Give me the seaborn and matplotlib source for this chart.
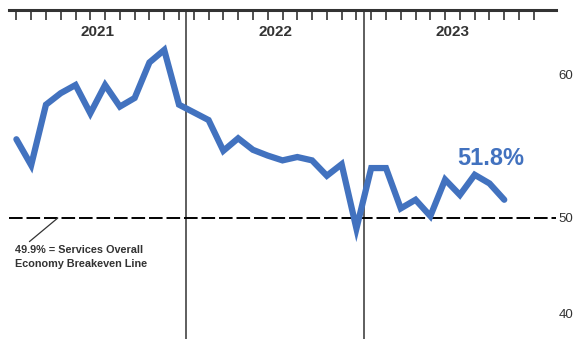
import pandas as pd
import matplotlib.pyplot as plt
import seaborn as sns

years = ["2021", "2022", "2023"]
pmi_2021 = [58.1, 55.4, 61.7, 62.9, 63.75, 60.8, 63.75, 61.5, 62.4, 66.1, 67.4, 61.7]
pmi_2022 = [60.9, 60.1, 56.9, 58.2, 57.0, 56.4, 55.9, 56.25, 55.9, 54.3, 55.5, 48.8]
pmi_2023 = [55.1, 55.1, 50.9, 51.8, 50.1, 53.9, 52.3, 54.4, 53.5, 51.8]
breakeven = 49.9
ytick_vals = [64.8, 50, 40]
ytick_labels = ["60", "50", "40"]

values = pmi_2021 + pmi_2022 + pmi_2023
df = pd.DataFrame({"month": [i + 0.5 for i in range(len(values))], "pmi": values})

sns.set_style("white")
plt.rcParams['font.family'] = ['Liberation Sans', 'DejaVu Sans']

fig = plt.figure(figsize=(5.76, 3.39), dpi=100)
ax = fig.add_axes([9 / 576, 0, 547 / 576, 1 - 10 / 339])

grey = "#333333"
blue = "#4272bf"

sns.lineplot(data=df, x="month", y="pmi", ax=ax, color=blue, linewidth=4.5,
             solid_joinstyle="miter", zorder=3)

ax.set_xlim(0, 37)
ax.set_ylim(37.3, 71.56)

# year dividers and labels
for i, yr in enumerate(years):
    if i > 0:
        ax.axvline(12 * i, color=grey, lw=1.1, zorder=2)
    ax.text(12 * i + 6, 69.3, yr, ha="center", va="center", fontsize=11,
            fontweight="bold", color=grey)

ax.axhline(breakeven, color="black", lw=1.4, ls=(0, (7, 2)), zorder=2)

# month ticks on top
ax.xaxis.tick_top()
ax.set_xticks([m + 0.5 for m in range(36)])
ax.set_xticklabels([])
ax.tick_params(axis="x", direction="in", length=7, width=1.2, color=grey, top=True, bottom=False)

ax.yaxis.tick_right()
ax.set_yticks(ytick_vals)
ax.set_yticklabels(ytick_labels)
ax.tick_params(axis="y", length=0, pad=2, labelsize=9.5, labelcolor=grey)

for side in ["left", "right", "bottom"]:
    ax.spines[side].set_visible(False)
ax.spines["top"].set_linewidth(2.2)
ax.spines["top"].set_color(grey)

ax.set_xlabel("")
ax.set_ylabel("")

ax.text(32.6, 56.1, "51.8%", color=blue, fontsize=17, fontweight="bold",
        ha="center", va="center")

ax.annotate("49.9% = Services Overall\nEconomy Breakeven Line",
            xy=(3.3, breakeven), xytext=(0.4, 47.1),
            fontsize=7.8, fontweight="bold", color=grey, va="top", ha="left",
            linespacing=1.5,
            arrowprops=dict(arrowstyle="-", color=grey, lw=0.9,
                            shrinkA=0, shrinkB=0, relpos=(0.08, 1.0)))

fig.savefig("out.png", dpi=100)
